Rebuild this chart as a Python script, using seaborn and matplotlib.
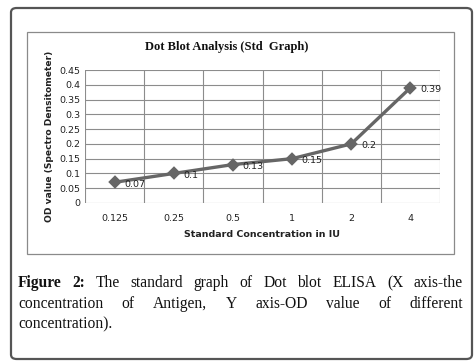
import matplotlib
matplotlib.use("Agg")
import matplotlib.pyplot as plt
import seaborn as sns
import pandas as pd
from matplotlib.patches import FancyBboxPatch, Rectangle

concentrations = ["0.125", "0.25", "0.5", "1", "2", "4"]
od_values = [0.07, 0.10, 0.13, 0.15, 0.20, 0.39]
od_labels = ["0.07", "0.1", "0.13", "0.15", "0.2", "0.39"]
y_ticks = [0, 0.05, 0.1, 0.15, 0.2, 0.25, 0.3, 0.35, 0.4, 0.45]
y_tick_labels = ["0", "0.05", "0.1", "0.15", "0.2", "0.25", "0.3", "0.35", "0.4", "0.45"]

sns.set_style("white")
W, H = 476, 364
fig = plt.figure(figsize=(W / 100, H / 100), dpi=100)
fig.patch.set_facecolor("white")

def fx(px):
    return px / W

def fy(py):
    return 1 - py / H

# outer rounded frame
outer = FancyBboxPatch((fx(11), fy(359)), fx(461), (359 - 8) / H,
                       boxstyle="round,pad=0,rounding_size=0.012",
                       transform=fig.transFigure, fill=False,
                       edgecolor="#555555", linewidth=1.6)
fig.patches.append(outer)
# inner chart frame
inner = Rectangle((fx(27), fy(254)), fx(427), (254 - 32) / H,
                  transform=fig.transFigure, fill=False,
                  edgecolor="#8a8a8a", linewidth=0.9)
fig.patches.append(inner)

ax = fig.add_axes([fx(85), fy(203), fx(440 - 85), (203 - 70) / H])
df = pd.DataFrame({"conc": concentrations, "od": od_values})
sns.pointplot(data=df, x="conc", y="od", order=concentrations, ax=ax,
              color="#666666", markers="D", markersize=5, linewidth=2.4,
              errorbar=None)

ax.set_xlim(-0.5, len(concentrations) - 0.5)
ax.set_ylim(0, 0.45)
ax.set_yticks(y_ticks)
ax.set_yticklabels(y_tick_labels)
for i in range(len(concentrations) + 1):
    ax.axvline(i - 0.5, color="#8c8c8c", linewidth=0.8, zorder=0)
for t in y_ticks:
    ax.axhline(t, color="#8c8c8c", linewidth=0.8, zorder=0)
for s in ax.spines.values():
    s.set_visible(False)
ax.tick_params(axis="both", length=0, labelsize=6.8, labelcolor="#222222")
ax.tick_params(axis="x", pad=8)
ax.tick_params(axis="y", pad=3)
for lab in ax.get_xticklabels() + ax.get_yticklabels():
    lab.set_family("DejaVu Sans")

for i, (v, lab) in enumerate(zip(od_values, od_labels)):
    ax.annotate(lab, (i, v), xytext=(7, -1.5), textcoords="offset points",
                ha="left", va="center", fontsize=6.8, color="#222222",
                family="DejaVu Sans")

ax.set_xlabel("Standard Concentration in IU", fontsize=6.8, fontweight="bold",
              color="#222222", labelpad=5)
ax.set_ylabel("OD value (Spectro Densitometer)", fontsize=6.6, fontweight="bold",
              color="#222222", labelpad=4)

fig.text(fx(227), fy(47), "Dot Blot Analysis (Std  Graph)", ha="center", va="center",
         fontsize=9, fontweight="bold", family="Liberation Serif", color="#111111")

# justified caption
caption_lines = [
    [("Figure", True), ("2:", True), ("The", False), ("standard", False), ("graph", False),
     ("of", False), ("Dot", False), ("blot", False), ("ELISA", False), ("(X", False), ("axis-the", False)],
    [("concentration", False), ("of", False), ("Antigen,", False), ("Y", False), ("axis-OD", False),
     ("value", False), ("of", False), ("different", False)],
    [("concentration).", False)],
]
line_y = [283, 304, 324]
x_left, x_right = 18, 463
fig.canvas.draw()
renderer = fig.canvas.get_renderer()
for words, yy in zip(caption_lines, line_y):
    texts = []
    for w, bold in words:
        t = fig.text(0, fy(yy), w, ha="left", va="center", fontsize=11.2,
                     family="Liberation Serif", fontweight="bold" if bold else "normal",
                     color="#111111")
        texts.append(t)
    widths = [t.get_window_extent(renderer).width for t in texts]
    if len(texts) > 1:
        gap = (x_right - x_left - sum(widths)) / (len(texts) - 1)
    else:
        gap = 0
    x = x_left
    for t, w in zip(texts, widths):
        t.set_x(fx(x))
        x += w + gap

fig.savefig("out.png", dpi=100, facecolor="white")
